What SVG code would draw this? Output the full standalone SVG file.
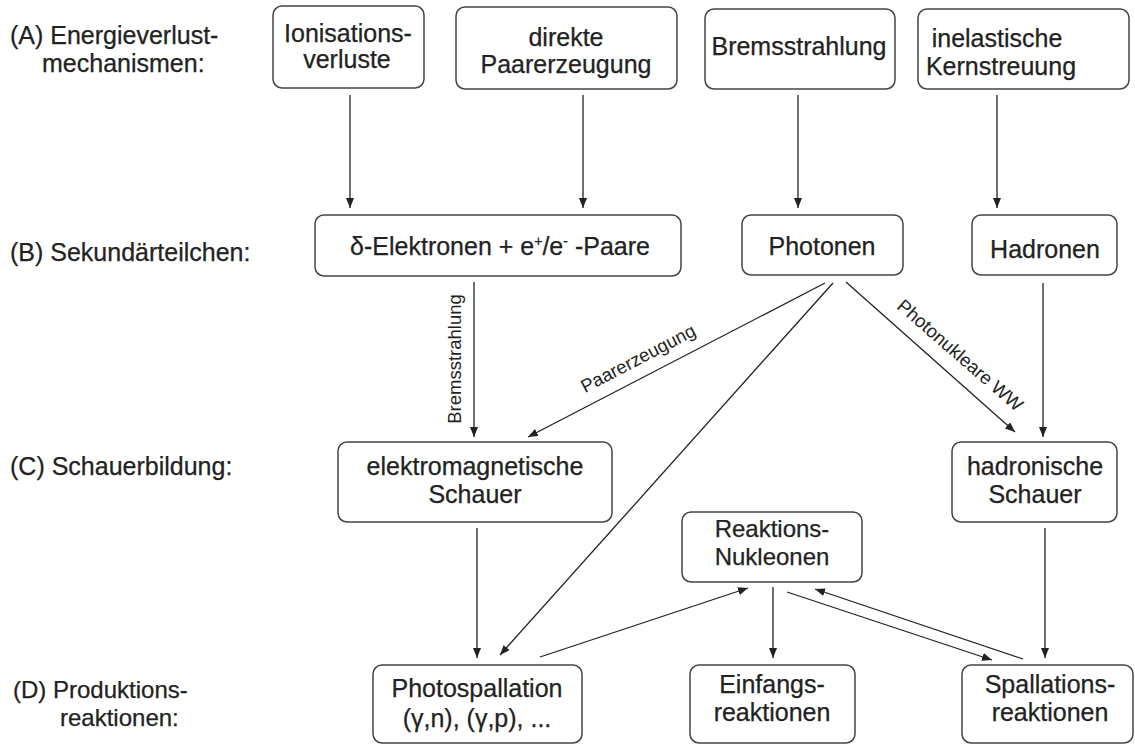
<svg xmlns="http://www.w3.org/2000/svg" width="1135" height="745" viewBox="0 0 1135 745">
<defs>
<marker id="ah" viewBox="0 0 10 8" refX="10" refY="4" markerWidth="10" markerHeight="8" markerUnits="userSpaceOnUse" orient="auto">
<path d="M0,0 L10,4 L0,8 Z" fill="#222"/>
</marker>
<style>
.t{font-family:"Liberation Sans",Arial,sans-serif;font-size:25px;fill:#222;stroke:#222;stroke-width:0.25;}
.s{font-size:24px;}
.c{text-anchor:middle;}
.lb{font-family:"Liberation Sans",Arial,sans-serif;font-size:18.5px;fill:#222;text-anchor:middle;}
.box{fill:#fff;stroke:#444;stroke-width:1.5;}
.e{stroke:#222;stroke-width:1.3;fill:none;marker-end:url(#ah);}
</style>
</defs>
<rect width="1135" height="745" fill="#fff"/>
<g id="row-labels">
<text class="t" x="10" y="44">(A) Energieverlust-</text>
<text class="t" x="42" y="72">mechanismen:</text>
<text class="t" x="10" y="261">(B) Sekundärteilchen:</text>
<text class="t" x="10" y="475">(C) Schauerbildung:</text>
<text class="t s" x="13" y="698">(D) Produktions-</text>
<text class="t s" x="60" y="726">reaktionen:</text>
</g>
<g id="connectors">
<line class="e" x1="350" y1="95" x2="350" y2="208"/>
<line class="e" x1="583" y1="95" x2="583" y2="208"/>
<line class="e" x1="798" y1="95" x2="798" y2="208"/>
<line class="e" x1="997" y1="95" x2="997" y2="208"/>
<line class="e" x1="474" y1="282" x2="474" y2="437"/>
<line class="e" x1="825" y1="283" x2="528" y2="437"/>
<line class="e" x1="833" y1="283" x2="500" y2="655"/>
<line class="e" x1="846" y1="282" x2="1015" y2="432"/>
<line class="e" x1="1043" y1="283" x2="1043" y2="437"/>
<line class="e" x1="477" y1="528" x2="477" y2="658"/>
<line class="e" x1="540" y1="657" x2="748" y2="588"/>
<line class="e" x1="773" y1="587" x2="773" y2="658"/>
<line class="e" x1="787" y1="592" x2="992" y2="660"/>
<line class="e" x1="1023" y1="659" x2="815" y2="589"/>
<line class="e" x1="1045" y1="528" x2="1045" y2="658"/>
<text class="lb" transform="translate(461,359) rotate(-90)">Bremsstrahlung</text>
<text class="lb" transform="translate(641,364) rotate(-27.5)">Paarerzeugung</text>
<text class="lb" transform="translate(956,360) rotate(41)">Photonukleare WW</text>
</g>
<g id="n-ionisation">
<rect class="box" x="273" y="6" width="151" height="82" rx="9"/>
<text class="t c" x="348" y="42">Ionisations-</text>
<text class="t c" x="347" y="68">verluste</text>
</g>
<g id="n-paarerzeugung">
<rect class="box" x="456" y="7" width="221" height="82" rx="9"/>
<text class="t c" x="566" y="46">direkte</text>
<text class="t c" x="566" y="73">Paarerzeugung</text>
</g>
<g id="n-bremsstrahlung">
<rect class="box" x="705" y="9" width="190" height="80" rx="9"/>
<text class="t c" x="799" y="55">Bremsstrahlung</text>
</g>
<g id="n-kernstreuung">
<rect class="box" x="918" y="9" width="211" height="80" rx="9"/>
<text class="t c" x="997" y="47">inelastische</text>
<text class="t c" x="1001" y="75">Kernstreuung</text>
</g>
<g id="n-elektronen">
<rect class="box" x="315" y="215" width="366" height="61" rx="9"/>
<text class="t c" x="500" y="255">δ-Elektronen + e<tspan dy="-9" font-size="14">+</tspan><tspan dy="9">/e</tspan><tspan dy="-9" font-size="14">-</tspan><tspan dy="9"> -Paare</tspan></text>
</g>
<g id="n-photonen">
<rect class="box" x="742" y="215" width="161" height="60" rx="9"/>
<text class="t c" x="822" y="255">Photonen</text>
</g>
<g id="n-hadronen">
<rect class="box" x="972" y="215" width="145" height="60" rx="9"/>
<text class="t c" x="1045" y="258">Hadronen</text>
</g>
<g id="n-em-schauer">
<rect class="box" x="338" y="442" width="274" height="80" rx="9"/>
<text class="t c" x="475" y="475">elektromagnetische</text>
<text class="t c" x="475" y="503">Schauer</text>
</g>
<g id="n-had-schauer">
<rect class="box" x="952" y="442" width="165" height="80" rx="9"/>
<text class="t c" x="1035" y="475">hadronische</text>
<text class="t c" x="1035" y="503">Schauer</text>
</g>
<g id="n-nukleonen">
<rect class="box" x="682" y="512" width="180" height="70" rx="9"/>
<text class="t s c" x="772" y="537">Reaktions-</text>
<text class="t s c" x="772" y="565">Nukleonen</text>
</g>
<g id="n-photospallation">
<rect class="box" x="373" y="665" width="209" height="78" rx="9"/>
<text class="t c" x="477" y="697">Photospallation</text>
<text class="t c" x="477" y="727">(γ,n), (γ,p), ...</text>
</g>
<g id="n-einfang">
<rect class="box" x="690" y="665" width="165" height="78" rx="9"/>
<text class="t c" x="772" y="693">Einfangs-</text>
<text class="t c" x="772" y="721">reaktionen</text>
</g>
<g id="n-spallation">
<rect class="box" x="962" y="665" width="171" height="78" rx="9"/>
<text class="t c" x="1050" y="693">Spallations-</text>
<text class="t c" x="1050" y="721">reaktionen</text>
</g>
</svg>
